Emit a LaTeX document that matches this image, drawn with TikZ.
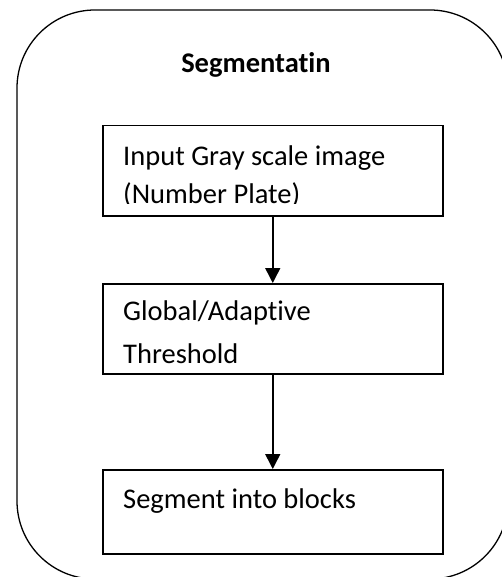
\documentclass[tikz,border=0pt]{standalone}
\usepackage{fontspec}
\setmainfont{Carlito}[Ligatures=NoCommon]
\usetikzlibrary{arrows.meta,positioning}
\definecolor{framegrey}{RGB}{0,0,0}

\begin{document}
\begin{tikzpicture}[x=1pt,y=-1pt]
\tikzset{
  stepbox/.style={draw=framegrey, line width=1.5pt, minimum width=340pt, inner sep=0pt, anchor=north west},
  steptext/.style={font=\fontsize{28.5}{34}\selectfont, inner sep=0pt, anchor=base west},
  flow/.style={draw=framegrey, line width=1.5pt, -{Triangle[length=15pt,width=15pt]}}
}
\useasboundingbox (0,0) rectangle (502,577);
\clip (0,0) rectangle (502,577);
\draw[framegrey, line width=1.3pt, rounded corners=78pt] (17,10) rectangle (508,579);

\node[font=\bfseries\fontsize{28.5}{34}\selectfont, anchor=base] (title) at (256,73) {Segmentatin};

% the three steps
\node[stepbox, minimum height=90pt] (input) at (102,125) {};
\node[stepbox, minimum height=90pt] (thresh) at (102,283) {};
\node[stepbox, minimum height=84pt] (blocks) at (102,469) {};

\node[steptext] (inputA) at ([xshift=21pt,yshift=-41pt]input.north west) {Input Gray scale image};
\begin{scope}
  \clip ([yshift=-2pt]input.north west) rectangle ([yshift=-78.5pt]input.north east);
  \node[steptext] (inputB) at ([yshift=-38pt]inputA.base west) {(Number Plate)};
\end{scope}
\node[steptext] (threshA) at ([xshift=21pt,yshift=-37pt]thresh.north west) {Global/Adaptive};
\node[steptext] (threshB) at ([yshift=-43pt]threshA.base west) {Threshold};
\node[steptext] (blocksA) at ([xshift=21pt,yshift=-39pt]blocks.north west) {Segment into blocks};

\draw[flow] (input) -- (thresh);
\draw[flow] (thresh) -- (blocks);
\end{tikzpicture}
\end{document}
